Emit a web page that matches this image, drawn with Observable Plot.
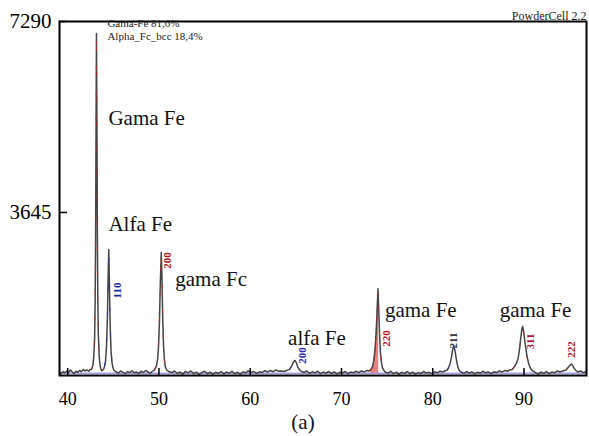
<!DOCTYPE html>
<html><head><meta charset="utf-8">
<script src="https://cdn.jsdelivr.net/npm/d3@7"></script>
<script src="https://cdn.jsdelivr.net/npm/@observablehq/plot@0.6"></script>
<style>body{margin:0;background:#fff} svg{display:block}</style>
</head><body><div id="chart"></div>
<script>
const observed = [
[39.1,600],[39.3,570],[39.5,610],[39.7,585],[39.9,620],[40.1,590],[40.3,640],[40.5,600],[40.7,575],[40.9,615],
[41.1,595],[41.3,630],[41.5,605],[41.7,650],[41.9,620],[42.1,640],[42.3,615],[42.45,650],
[42.6,650],[42.75,720],[42.85,880],[42.95,1250],[43.0,1850],[43.05,2900],[43.1,5000],[43.15,7060],[43.2,5400],
[43.25,3200],[43.3,2000],[43.35,1350],[43.45,900],[43.55,720],[43.65,650],[43.75,625],[43.85,640],[43.95,660],
[44.05,720],[44.15,820],[44.25,1080],[44.35,1650],[44.43,2400],[44.5,2940],[44.57,2300],[44.65,1500],[44.75,1000],
[44.85,780],[44.95,690],[45.05,640],[45.25,610],
[45.55,580],[45.8,620],[46.05,595],[46.3,570],[46.55,610],[46.8,590],[47.05,625],[47.3,585],[47.55,600],[47.8,570],
[48.05,615],[48.3,590],[48.55,630],[48.8,600],[49.05,580],[49.3,615],
[49.5,640],[49.65,690],[49.75,740],[49.85,840],[49.95,1080],[50.05,1550],[50.15,2300],[50.25,2880],[50.33,2400],
[50.4,1700],[50.5,1100],[50.6,830],[50.7,700],[50.85,640],[51.05,610],
[51.4,590],[51.7,620],[52.0,575],[52.3,600],[52.6,560],[52.9,610],[53.2,585],[53.5,620],[53.8,570],[54.1,600],
[54.4,555],[54.7,590],[55.0,615],[55.3,570],[55.6,600],[55.9,560],[56.2,595],[56.5,575],[56.8,610],[57.1,565],
[57.4,600],[57.7,580],[58.0,615],[58.3,570],[58.6,595],[58.9,560],[59.2,600],[59.5,585],[59.8,620],[60.1,590],
[60.4,610],[60.7,575],[61.0,605],[61.3,590],[61.6,625],[61.9,600],[62.2,630],[62.5,605],[62.8,640],[63.1,615],
[63.4,620],[63.7,610],[64.0,630],
[64.3,650],[64.5,700],[64.65,760],[64.8,810],[64.9,820],[65.05,780],[65.2,700],[65.4,640],[65.6,610],
[65.9,590],[66.2,620],[66.5,575],[66.8,605],[67.1,585],[67.4,615],[67.7,570],[68.0,600],[68.3,580],[68.6,610],
[68.9,575],[69.2,605],[69.5,565],[69.8,595],[70.1,580],[70.4,610],[70.7,570],[71.0,600],[71.3,585],[71.6,615],
[71.9,590],[72.2,620],[72.5,600],[72.8,630],[73.0,620],
[73.2,640],[73.4,700],[73.5,780],[73.6,900],[73.7,1080],[73.8,1350],[73.9,1750],[74.0,2190],[74.08,1800],
[74.18,1300],[74.28,950],[74.38,780],[74.5,680],[74.65,630],[74.8,600],
[75.1,580],[75.4,615],[75.7,570],[76.0,600],[76.3,560],[76.6,595],[76.9,575],[77.2,610],[77.5,570],[77.8,600],
[78.1,560],[78.4,590],[78.7,575],[79.0,610],[79.3,580],[79.6,595],[79.9,570],[80.2,605],[80.5,585],[80.8,615],
[81.1,600],[81.35,625],
[81.6,640],[81.75,690],[81.9,760],[82.05,880],[82.2,1040],[82.3,1100],[82.45,1000],[82.6,830],[82.75,700],
[82.9,630],[83.1,600],
[83.4,575],[83.7,610],[84.0,580],[84.3,600],[84.6,565],[84.9,595],[85.2,580],[85.5,615],[85.8,585],[86.1,600],
[86.4,570],[86.7,605],[87.0,590],[87.3,620],[87.6,600],[87.9,630],[88.2,615],[88.45,640],
[88.7,650],[88.95,700],[89.15,760],[89.35,860],[89.5,1020],[89.65,1260],[89.77,1420],[89.85,1470],[89.95,1380],
[90.05,1250],[90.2,1050],[90.35,880],[90.55,740],[90.75,660],[90.95,620],
[91.25,590],[91.55,560],[91.85,600],[92.15,575],[92.45,610],[92.75,570],[93.05,600],[93.35,585],[93.65,620],
[93.95,600],[94.25,620],
[94.6,640],[94.8,680],[94.95,710],[95.1,740],[95.2,755],[95.35,720],[95.5,670],[95.7,630],[95.9,600],
[96.2,620],[96.5,590],[96.85,610]
];
// fitted background (blue) and peak windows of the calculated profiles
const background = [[39.1,578],[96.85,578]];
const gammaWindows = [[42.6,43.95],[49.5,51.05],[73.2,74.8],[88.7,90.95],[94.6,95.9]];
const alphaWindows = [[44.05,45.25],[64.3,65.6],[81.6,83.1]];
const filledWindow = [73.2,74.08];

const xTicks = [40,50,60,70,80,90];
const yTicks = [3645,7290];

// Phase annotations
const phaseText = ["Gama Fe","Alfa Fe","gama Fc","alfa Fe","gama Fe","gama Fe"];
const phaseAngle = [44.46,44.46,51.79,64.15,74.76,87.34];
const phaseCounts = [5439,3416,2366,1240,1775,1775];

// hkl labels
const hklText = ["110","200","200","220","211","311","222"];
const hklAngle = [45.44,50.91,65.68,74.98,82.30,90.73,95.21];
const hklCounts = [2156,2729,916,1240,1202,1183,1030];
const hklColor = ["#1c2aa8","#b3141c","#2a2ab0","#b3141c","#3a3a3a","#a8183a","#b3141c"];

const legendLines = ["Gama-Fe 81,6%","Alpha_Fc_bcc 18,4%"];
const legendAngle = [44.35,44.35];
const legendCounts = [7250,7000];

const serif = "'Liberation Serif', 'Times New Roman', serif";

function windowed(wins){
  const out = [];
  wins.forEach((w,i)=>observed.forEach(([a,c])=>{ if(a>=w[0]&&a<=w[1]) out.push({a,c,k:i}); }));
  return out;
}
const gammaCalc = windowed(gammaWindows);
const alphaCalc = windowed(alphaWindows);
const fillPts = windowed([filledWindow]);
const phaseData = phaseText.map((t,i)=>({t,a:phaseAngle[i],c:phaseCounts[i]}));
const hklData = hklText.map((t,i)=>({t,a:hklAngle[i],c:hklCounts[i],col:hklColor[i]}));
const legendData = legendLines.map((t,i)=>({t,a:legendAngle[i],c:legendCounts[i]}));

const chart = Plot.plot({
  width: 589, height: 436,
  marginLeft: 59, marginRight: 3, marginTop: 21, marginBottom: 61,
  style: {fontFamily: serif, background: "#fff", color: "#000"},
  x: {domain: [39.1, 96.85]},
  y: {domain: [534, 7290]},
  marks: [
    Plot.line(background, {x: d=>d[0], y: d=>d[1], stroke: "#7070d8", strokeWidth: 1}),
    Plot.areaY(fillPts, {x: "a", y1: 578, y2: "c", fill: "#d83030", fillOpacity: 0.6}),
    Plot.line(observed, {x: d=>d[0], y: d=>d[1], stroke: "#444", strokeWidth: 1.5}),
    Plot.line(gammaCalc, {x: "a", y: "c", z: "k", stroke: "#d42020", strokeWidth: 1, strokeOpacity: 0.8, strokeDasharray: "3,22"}),
    Plot.line(alphaCalc, {x: "a", y: "c", z: "k", stroke: "#2030c8", strokeWidth: 1, strokeOpacity: 0.8, strokeDasharray: "3,22"}),
    Plot.frame({stroke: "#000", strokeWidth: 2}),
    Plot.axisX({ticks: xTicks, tickSize: -7, tickPadding: 24, fontSize: 18, label: null, tickFormat: d=>String(d), strokeWidth: 1.5}),
    Plot.axisY({ticks: yTicks, tickSize: -8, tickPadding: 16, fontSize: 21, label: null, tickFormat: d=>String(d), strokeWidth: 1.5}),
    Plot.text(phaseData, {x: "a", y: "c", text: "t", textAnchor: "start", fontSize: 21, fill: "#111"}),
    Plot.text(hklData, {x: "a", y: "c", text: "t", rotate: -90, fontSize: 11, fontWeight: "bold", fill: "col"}),
    Plot.text(legendData, {x: "a", y: "c", text: "t", textAnchor: "start", fontSize: 11, fill: "#222"}),
    Plot.text(["PowderCell 2.2"], {frameAnchor: "top-right", textAnchor: "end", dy: -10, fontSize: 12, fill: "#222"}),
    Plot.text(["(a)"], {frameAnchor: "bottom", dx: -20, dy: 53, fontSize: 21, fill: "#111"})
  ]
});
document.getElementById("chart").appendChild(chart);
</script>
</body></html>
